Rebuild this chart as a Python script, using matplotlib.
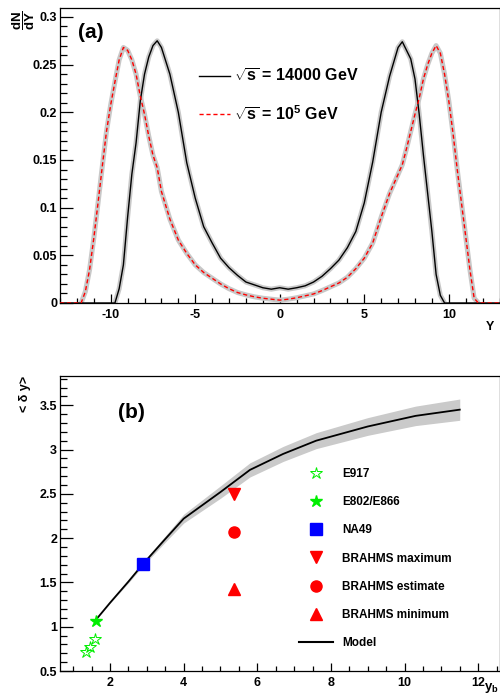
import matplotlib
matplotlib.use("Agg")
import numpy as np
import matplotlib.pyplot as plt
from matplotlib.ticker import MultipleLocator, FuncFormatter
from matplotlib.lines import Line2D

plt.rcParams['font.family'] = ['Liberation Sans', 'DejaVu Sans']
plt.rcParams['font.weight'] = 'bold'
plt.rcParams['mathtext.fontset'] = 'custom'
plt.rcParams['mathtext.rm'] = 'Liberation Sans:bold'
plt.rcParams['mathtext.bf'] = 'Liberation Sans:bold'
plt.rcParams['mathtext.it'] = 'Liberation Sans:bold'
plt.rcParams['mathtext.default'] = 'bf'

# ---------------- Panel (a) data ----------------
Y_14000 = [-13.0, -10.0, -9.75, -9.5, -9.25, -9.0, -8.75, -8.5, -8.25, -8.0, -7.75, -7.5, -7.25,
           -7.0, -6.5, -6.0, -5.5, -5.0, -4.5, -4.0, -3.5, -3.0, -2.5, -2.0, -1.5, -1.0,
           -0.5, 0.0, 0.5, 1.0, 1.5, 2.0, 2.5, 3.0, 3.5, 4.0, 4.5, 5.0, 5.5, 6.0, 6.5,
           7.0, 7.25, 7.5, 7.75, 8.0, 8.25, 8.5, 8.75, 9.0, 9.25, 9.5, 9.75, 10.0, 13.0]
dNdY_14000 = [0.0, 0.0, 0.0, 0.015, 0.04, 0.09, 0.135, 0.168, 0.212, 0.24, 0.258, 0.27, 0.275,
              0.268, 0.24, 0.2, 0.147, 0.11, 0.08, 0.063, 0.047, 0.037, 0.029, 0.022, 0.019, 0.016,
              0.0145, 0.016, 0.0145, 0.016, 0.018, 0.022, 0.028, 0.036, 0.045, 0.058, 0.075, 0.105, 0.148, 0.2, 0.238,
              0.268, 0.274, 0.265, 0.256, 0.235, 0.198, 0.155, 0.115, 0.075, 0.03, 0.008, 0.0, 0.0, 0.0]

Y_1e5 = [-13.0, -12.0, -11.75, -11.5, -11.25, -11.0, -10.75, -10.5, -10.25, -10.0, -9.75, -9.5, -9.25,
         -9.0, -8.75, -8.5, -8.25, -8.0, -7.75, -7.5, -7.25, -7.0, -6.5, -6.0, -5.5, -5.0,
         -4.5, -4.0, -3.5, -3.0, -2.5, -2.0, -1.5, -1.0, -0.5, 0.0, 0.5, 1.0, 1.5, 2.0,
         2.5, 3.0, 3.5, 4.0, 4.5, 5.0, 5.5, 6.0, 6.5, 7.0, 7.25, 7.5, 7.75, 8.0, 8.25,
         8.5, 8.75, 9.0, 9.25, 9.5, 9.75, 10.0, 10.25, 10.5, 10.75, 11.0, 11.25, 11.5, 11.75, 12.0, 13.0]
dNdY_1e5 = [0.0, 0.0, 0.0, 0.012, 0.035, 0.068, 0.105, 0.143, 0.18, 0.208, 0.232, 0.255, 0.268,
            0.265, 0.255, 0.24, 0.217, 0.198, 0.175, 0.155, 0.142, 0.117, 0.088, 0.066, 0.052, 0.04,
            0.032, 0.026, 0.02, 0.015, 0.011, 0.0085, 0.0065, 0.005, 0.004, 0.003, 0.004, 0.0055, 0.0075, 0.0095,
            0.013, 0.017, 0.021, 0.027, 0.036, 0.047, 0.063, 0.09, 0.115, 0.135, 0.145, 0.162, 0.18, 0.198, 0.215,
            0.235, 0.25, 0.262, 0.27, 0.262, 0.24, 0.212, 0.178, 0.14, 0.105, 0.07, 0.035, 0.005, 0.0, 0.0, 0.0]

label_14000 = r'$\sqrt{s}$ = 14000 GeV'
label_1e5 = r'$\sqrt{s}$ = 10$^{5}$ GeV'

# ---------------- Panel (b) data ----------------
model_ybeam = [1.6, 2.0, 2.5, 2.9, 3.5, 4.0, 5.0, 5.8, 6.7, 7.6, 9.0, 10.3, 11.5]
model_dy = [1.07, 1.27, 1.51, 1.71, 1.99, 2.22, 2.52, 2.77, 2.95, 3.1, 3.26, 3.38, 3.45]
model_err = [0.0, 0.005, 0.015, 0.02, 0.035, 0.05, 0.07, 0.08, 0.085, 0.09, 0.1, 0.11, 0.12]

e917_x = [1.35, 1.45, 1.6]
e917_y = [0.71, 0.77, 0.86]
e802_x = [1.61]
e802_y = [1.07]
na49_x = [2.89]
na49_y = [1.71]
brahms_max_x = [5.37]
brahms_max_y = [2.50]
brahms_est_x = [5.37]
brahms_est_y = [2.07]
brahms_min_x = [5.37]
brahms_min_y = [1.42]

W, H = 500, 696
fig = plt.figure(figsize=(W / 100, H / 100), dpi=100)

def fx(px):
    return px / W

def fy(py):
    return 1 - py / H

green = '#00ee00'

def style_axes(ax, xmaj, xmin, ymaj, ymin, xlen, ylen):
    for s in ax.spines.values():
        s.set_linewidth(0.9)
    ax.xaxis.set_major_locator(MultipleLocator(xmaj))
    ax.xaxis.set_minor_locator(MultipleLocator(xmin))
    ax.yaxis.set_major_locator(MultipleLocator(ymaj))
    ax.yaxis.set_minor_locator(MultipleLocator(ymin))
    ax.tick_params(axis='x', which='major', direction='in', length=xlen[0], width=0.9,
                   labelsize=9, pad=4, top=False)
    ax.tick_params(axis='x', which='minor', direction='in', length=xlen[1], width=0.9, top=False)
    ax.tick_params(axis='y', which='major', direction='in', length=ylen[0], width=0.9,
                   labelsize=9, pad=2, right=False)
    ax.tick_params(axis='y', which='minor', direction='in', length=ylen[1], width=0.9, right=False)
    fmt = FuncFormatter(lambda v, p: ('%g' % round(v, 4)))
    ax.xaxis.set_major_formatter(fmt)
    ax.yaxis.set_major_formatter(fmt)
    for lab in ax.get_xticklabels() + ax.get_yticklabels():
        lab.set_fontweight('bold')

def band_mask(vals):
    v = np.asarray(vals, dtype=float)
    out = v.copy()
    for i in range(len(v)):
        lo = v[i - 1] if i > 0 else 0.0
        hi = v[i + 1] if i < len(v) - 1 else 0.0
        if v[i] == 0 and lo == 0 and hi == 0:
            out[i] = np.nan
    return out

# ---------------- Panel (a) ----------------
axa = fig.add_axes([fx(60), fy(303), fx(499.5) - fx(60), fy(8) - fy(303)])
axa.plot(Y_14000, band_mask(dNdY_14000), color='#c8c8c8', lw=3.6, solid_capstyle='butt', zorder=2)
axa.plot(Y_1e5, band_mask(dNdY_1e5), color='#c8c8c8', lw=3.6, solid_capstyle='butt', zorder=2)
axa.plot(Y_14000, dNdY_14000, color='black', lw=1.0, zorder=3, label=label_14000)
axa.plot(Y_1e5, dNdY_1e5, color='red', lw=1.0, ls=(0, (3, 2)), zorder=4, label=label_1e5)
axa.set_xlim(-13, 13)
axa.set_ylim(0, 0.3094)
style_axes(axa, 5, 1, 0.05, 0.01, (6.5, 3.5), (9.4, 5.0))
leg = axa.legend(loc='upper left', bbox_to_anchor=((199 - 60) / 439.5, (303 - 68) / 295),
                 frameon=False, fontsize=11.5, handlelength=1.95, handletextpad=0.25,
                 labelspacing=1.2, borderpad=0, borderaxespad=0)
for t in leg.get_texts():
    t.set_fontweight('bold')
axa.text((91 - 60) / 439.5, (303 - 32) / 295, '(a)', transform=axa.transAxes,
         fontsize=15, fontweight='bold', ha='center', va='center')
fig.text(fx(24), fy(20), r'$\dfrac{dN}{dY}$', rotation=90, fontsize=9.5,
         ha='center', va='center')
fig.text(fx(490), fy(327), 'Y', fontsize=9, fontweight='bold', ha='center', va='center')

# ---------------- Panel (b) ----------------
axb = fig.add_axes([fx(60), fy(671), fx(499.5) - fx(60), fy(376) - fy(671)])
lo = [m - e for m, e in zip(model_dy, model_err)]
hi = [m + e for m, e in zip(model_dy, model_err)]
axb.fill_between(model_ybeam, lo, hi, color='#cacaca', lw=0, zorder=1)
axb.plot(model_ybeam, model_dy, color='black', lw=1.3, zorder=2, label='Model')
h_e917, = axb.plot(e917_x, e917_y, ls='none', marker='*', ms=9, mfc='none', mec=green,
                   mew=0.7, zorder=3, label='E917')
h_e802, = axb.plot(e802_x, e802_y, ls='none', marker='*', ms=9, mfc=green, mec=green,
                   zorder=3, label='E802/E866')
h_na49, = axb.plot(na49_x, na49_y, ls='none', marker='s', ms=8.5, color='#0000ff',
                   zorder=3, label='NA49')
h_bmax, = axb.plot(brahms_max_x, brahms_max_y, ls='none', marker='v', ms=8.5, color='red',
                   zorder=3, label='BRAHMS maximum')
h_best, = axb.plot(brahms_est_x, brahms_est_y, ls='none', marker='o', ms=8, color='red',
                   zorder=3, label='BRAHMS estimate')
h_bmin, = axb.plot(brahms_min_x, brahms_min_y, ls='none', marker='^', ms=8.5, color='red',
                   zorder=3, label='BRAHMS minimum')
h_model = Line2D([], [], color='black', lw=1.5)
axb.set_xlim(0.64, 12.58)
axb.set_ylim(0.5, 3.83)
style_axes(axb, 2, 0.5, 0.5, 0.1, (6.0, 3.3), (9.4, 5.0))
legb = axb.legend([h_e917, h_e802, h_na49, h_bmax, h_best, h_bmin, h_model],
                  ['E917', 'E802/E866', 'NA49', 'BRAHMS maximum', 'BRAHMS estimate',
                   'BRAHMS minimum', 'Model'],
                  loc='upper left', bbox_to_anchor=((299 - 60) / 439.5, (671 - 468) / 295),
                  frameon=False, fontsize=8.5, handlelength=2.9, handletextpad=0.75,
                  labelspacing=1.37, borderpad=0, borderaxespad=0, numpoints=1)
for t in legb.get_texts():
    t.set_fontweight('bold')
axb.text((131 - 60) / 439.5, (671 - 413) / 295, '(b)', transform=axb.transAxes,
         fontsize=15, fontweight='bold', ha='center', va='center')
fig.text(fx(25), fy(394), '< δ y>', rotation=90, fontsize=9, fontweight='bold',
         ha='center', va='center')
fig.text(fx(498.5), fy(688), r'y$_{b}$', fontsize=9.5, ha='right', va='center')

fig.savefig('out.png', dpi=100)
